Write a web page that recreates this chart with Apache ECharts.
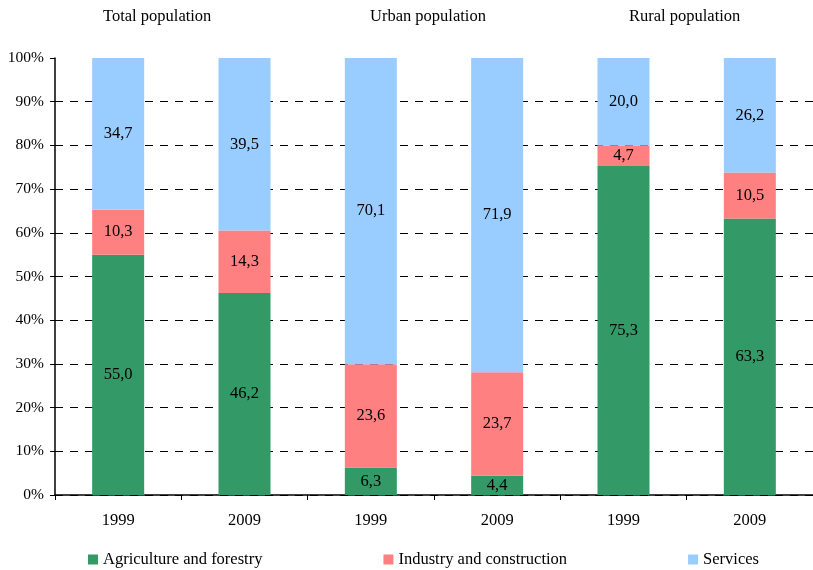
<!DOCTYPE html>
<html><head><meta charset="utf-8">
<script src="https://cdn.jsdelivr.net/npm/echarts@6/dist/echarts.min.js"></script>
<style>html,body{margin:0;padding:0;background:#fff}#c{width:813px;height:570px}</style>
</head><body><div id="c"></div>
<script>
const categories = ['1999','2009','1999','2009','1999','2009'];
const groupTitles = ['Total population','Urban population','Rural population'];
const agriculture = [55.0, 46.2, 6.3, 4.4, 75.3, 63.3];
const industry = [10.3, 14.3, 23.6, 23.7, 4.7, 10.5];
const services = [34.7, 39.5, 70.1, 71.9, 20.0, 26.2];
const seriesNames = ['Agriculture and forestry','Industry and construction','Services'];
const colors = ['#339966','#FF8080','#99CCFF'];

const FONT = '"Liberation Serif","DejaVu Serif",serif';
const chart = echarts.init(document.getElementById('c'));
const lbl = {show:true, position:'inside', color:'#000', fontFamily:FONT, fontSize:16.5,
  formatter: p => p.value.toFixed(1).replace('.', ',')};
function mk(name, data, color){
  return {name, type:'bar', stack:'s', data, barWidth:52, itemStyle:{color}, label:lbl};
}
chart.setOption({
  animation:false,
  textStyle:{fontFamily:FONT},
  grid:{left:55, right:0, top:58, bottom:75},
  graphic: [
    {type:'text', left:103, top:8, style:{text:groupTitles[0], font:'16.5px '+FONT, fill:'#000'}},
    {type:'text', left:370, top:8, style:{text:groupTitles[1], font:'16.5px '+FONT, fill:'#000'}},
    {type:'text', left:629, top:8, style:{text:groupTitles[2], font:'16.5px '+FONT, fill:'#000'}}
  ],
  legend:{top:546, left:83, itemGap:121, itemWidth:10, itemHeight:10, icon:'rect',
    textStyle:{fontFamily:FONT, fontSize:16.5, color:'#000'}, data:seriesNames},
  xAxis:{type:'category', data:categories,
    axisLine:{lineStyle:{color:'#000', width:1.5}},
    axisTick:{show:true, length:5, lineStyle:{color:'#000'}},
    axisLabel:{color:'#000', fontFamily:FONT, fontSize:16.5, margin:17}},
  yAxis:{type:'value', min:0, max:100, interval:10,
    axisLine:{show:true, lineStyle:{color:'#000', width:1.5}},
    axisTick:{show:true, length:5, lineStyle:{color:'#000'}},
    axisLabel:{color:'#000', fontFamily:FONT, fontSize:15.5, formatter:'{value}%', margin:11},
    splitLine:{show:true, showMaxLine:false, lineStyle:{color:'#000', type:[8,7], width:1.2}}},
  series:[mk(seriesNames[0], agriculture, colors[0]), mk(seriesNames[1], industry, colors[1]), mk(seriesNames[2], services, colors[2])]
});
</script></body></html>
